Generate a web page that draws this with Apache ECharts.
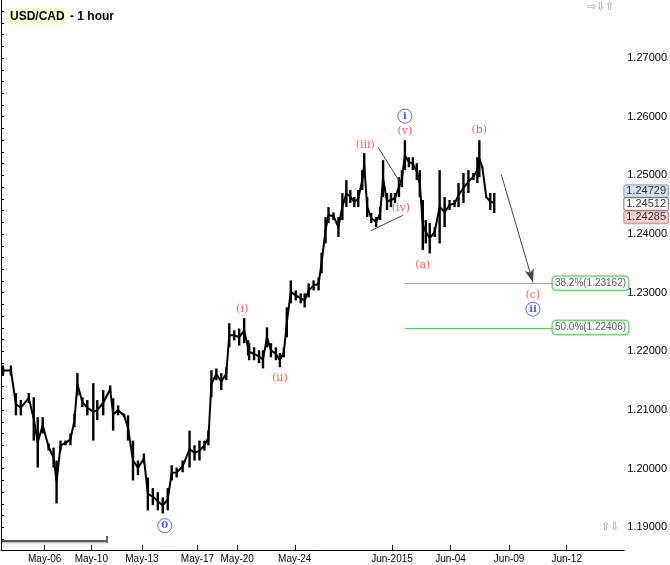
<!DOCTYPE html>
<html>
<head>
<meta charset="utf-8">
<script src="https://cdn.jsdelivr.net/npm/echarts@6/dist/echarts.min.js"></script>
<style>
  html, body { margin: 0; padding: 0; background: #fff; }
  #chart { width: 670px; height: 565px; }
</style>
</head>
<body>
<div id="chart"></div>
<script>
// session position (bar slot) of each sampled hourly block
var barSlot = [2,10,15,20,28,33,37,42,48,53,56,60,65,70,74,77,82,87,93,97,103,110,113,118,124,128,133,138,144,148,
  153,158,163,168,172,177,183,190,195,200,205,209,212,217,222,227,230,235,240,245,249,
  250,255,260,264,268,272,277,281,285,288,292,297,302,306,310,315,320,323,327,330,335,340,344,348,352,356,360,364,366,
  369,373,378,382,385,389,393,397,401,404,407,411,415,419,422,425,428,432,437,442,447,452,457,461,466,471,476,480,482,
  485,489,493,497];
var barHigh = [1.2176,1.2176,1.2129,1.2117,1.2129,1.2122,1.2088,1.2088,1.2043,1.2036,1.2014,1.2048,1.2048,1.2060,1.2094,1.2163,1.2122,1.2117,1.2146,1.2117,
  1.2134,1.2142,1.2120,1.2108,1.2094,1.2091,1.2048,1.2014,1.2026,1.1985,1.1967,1.1960,1.1951,1.1967,1.2006,1.2002,1.2014,1.2065,1.2040,1.2048,
  1.2048,1.2065,1.2168,1.2171,1.2163,1.2173,1.2248,1.2236,1.2239,1.2257,1.2219,
  1.2214,1.2207,1.2202,1.2202,1.2241,1.2214,1.2207,1.2197,1.2207,1.2275,1.2321,1.2304,1.2299,1.2299,1.2316,1.2321,1.2326,1.2368,1.2429,1.2446,
  1.2437,1.2429,1.2470,1.2492,1.2475,1.2463,1.2475,1.2509,1.2538,1.2463,1.2436,1.2429,1.2446,1.2526,1.2470,1.2470,1.2470,1.2497,1.2509,1.2560,
  1.2531,1.2531,1.2521,1.2509,1.2458,1.2424,1.2419,1.2412,1.2509,1.2463,1.2458,1.2458,1.2487,1.2504,1.2509,1.2504,1.2531,1.2560,1.2514,1.2463,
  1.2470,1.2470];
var barLow = [1.2159,1.2159,1.2091,1.2091,1.2112,1.2048,1.2002,1.2060,1.2031,1.2002,1.1941,1.2031,1.2040,1.2040,1.2071,1.2125,1.2105,1.2091,1.2048,1.2083,
  1.2091,1.2129,1.2065,1.2091,1.2088,1.2048,1.1980,1.1989,1.2009,1.1929,1.1938,1.1929,1.1924,1.1929,1.1980,1.1985,1.1994,1.2002,1.2014,1.2014,
  1.2031,1.2040,1.2122,1.2151,1.2134,1.2151,1.2207,1.2219,1.2210,1.2214,1.2193,
  1.2185,1.2185,1.2180,1.2171,1.2207,1.2190,1.2185,1.2173,1.2190,1.2224,1.2282,1.2287,1.2282,1.2275,1.2292,1.2304,1.2304,1.2333,1.2384,1.2419,
  1.2424,1.2395,1.2424,1.2446,1.2453,1.2446,1.2446,1.2475,1.2497,1.2429,1.2419,1.2412,1.2424,1.2463,1.2441,1.2446,1.2453,1.2463,1.2480,1.2509,
  1.2514,1.2509,1.2492,1.2463,1.2373,1.2384,1.2367,1.2395,1.2384,1.2412,1.2441,1.2446,1.2446,1.2453,1.2470,1.2492,1.2487,1.2497,1.2514,1.2463,
  1.2441,1.2436,1.2429];

var xTickSlot = [44, 91, 142, 198, 238, 296, 394, 453, 512, 570];
var xTickText = ['May-06', 'May-10', 'May-13', 'May-17', 'May-20', 'May-24', 'Jun-2015', 'Jun-04', 'Jun-09', 'Jun-12'];
var yTickLabels = [1.19, 1.20, 1.21, 1.22, 1.23, 1.24, 1.25, 1.26, 1.27];

var fibLevels = [1.23162, 1.22406];
var fibTexts = ['38.2%(1.23162)', '50.0%(1.22406)'];
var priceTags = [1.24729, 1.24512, 1.24285];

// wave count labels [slot, price, text]
var waveRed = [[243, 1.2272, '(i)'], [281, 1.2154, '(ii)'], [367, 1.2552, '(iii)'], [403, 1.2444, '(iv)'],
  [407, 1.2576, '(v)'], [425, 1.2347, '(a)'], [482, 1.2577, '(b)'], [536, 1.2296, '(c)']];
var waveBlue = [[407, 1.2601, 'i'], [165, 1.1903, '0'], [536, 1.2272, 'ii']];

var minorTicks = [];
for (var t = 1.188; t <= 1.279; t += 0.002) minorTicks.push(+t.toFixed(3));

var bars = barSlot.map(function (s, i) { return [s, barLow[i], barHigh[i]]; });
var mids = barSlot.map(function (s, i) { return [s, (barLow[i] + barHigh[i]) / 2]; });

var green = '#5cc85c';
var chart = echarts.init(document.getElementById('chart'));
chart.setOption({
  animation: false,
  title: {
    left: 3, top: 3,
    text: '{a|USD/CAD}{b| - 1 hour}',
    textStyle: {
      rich: {
        a: { backgroundColor: '#ffffd8', padding: [3, 2, 3, 2], fontSize: 12, fontWeight: 'bold', color: '#000', fontFamily: 'Liberation Sans' },
        b: { fontSize: 12, fontWeight: 'bold', color: '#000', fontFamily: 'Liberation Sans' }
      }
    }
  },
  grid: { left: 1, right: 42, top: 0, bottom: 15 },
  xAxis: {
    type: 'value', min: 0, max: 628,
    splitLine: { show: false },
    axisLine: { lineStyle: { color: '#000' } },
    axisTick: { inside: true, length: 5, lineStyle: { color: '#000' }, customValues: xTickSlot },
    axisLabel: {
      customValues: xTickSlot, margin: 4, fontSize: 10, color: '#000', fontFamily: 'Liberation Sans',
      formatter: function (v) { var i = xTickSlot.indexOf(v); return i >= 0 ? xTickText[i] : ''; }
    }
  },
  yAxis: {
    type: 'value', position: 'right', min: 1.18615, max: 1.27990, scale: true,
    splitLine: { show: false },
    axisLine: { show: true, lineStyle: { color: '#000' } },
    axisTick: { show: true, length: 3, lineStyle: { color: '#000' }, customValues: minorTicks },
    axisLabel: {
      customValues: yTickLabels, margin: 3, fontSize: 11, color: '#000', fontFamily: 'Liberation Sans',
      formatter: function (v) { return v.toFixed(5); }
    }
  },
  series: [
    {
      type: 'line', data: mids, symbol: 'none', lineStyle: { color: '#000', width: 2 }, z: 2
    },
    {
      type: 'custom', data: bars, z: 3,
      renderItem: function (params, api) {
        var lo = api.coord([api.value(0), api.value(1)]);
        var hi = api.coord([api.value(0), api.value(2)]);
        return { type: 'rect', shape: { x: lo[0] - 1.2, y: hi[1], width: 2.4, height: Math.max(1, lo[1] - hi[1]) }, style: { fill: '#000' } };
      }
    },
    // trend lines and projection arrow
    {
      type: 'line', symbol: 'none', data: [], silent: true, z: 4,
      markLine: {
        silent: true, animation: false, label: { show: false },
        lineStyle: { color: '#444', width: 1, type: 'solid' },
        symbol: ['none', 'none'],
        data: [
          [{ coord: [380, 1.2548] }, { coord: [404, 1.2483] }],
          [{ coord: [373, 1.2406] }, { coord: [405, 1.2432] }],
          [{ coord: [504, 1.2502] }, { coord: [536, 1.2318], symbol: 'arrow', symbolSize: [7, 13] }]
        ]
      }
    },
    // fibonacci retracement levels
    {
      type: 'custom', z: 8, silent: true,
      data: fibLevels.map(function (v) { return [407, 628, v]; }),
      renderItem: function (params, api) {
        var a = api.coord([api.value(0), api.value(2)]);
        var b = api.coord([api.value(1), api.value(2)]);
        return { type: 'line', z2: 10, shape: { x1: a[0], y1: Math.round(a[1]) + 0.5, x2: b[0], y2: Math.round(b[1]) + 0.5 }, style: { stroke: green, lineWidth: 1.2 } };
      }
    },
    {
      type: 'scatter', symbolSize: 0, z: 9,
      data: fibLevels.map(function (v, i) { return { value: [594, v], name: fibTexts[i] }; }),
      label: {
        show: true, position: 'inside', formatter: '{b}', fontSize: 10, color: '#333', fontFamily: 'Liberation Sans',
        backgroundColor: '#fff', borderColor: green, borderWidth: 1.5, borderRadius: 3, padding: [2, 2, 1, 2]
      }
    },
    // wave labels
    {
      type: 'scatter', symbolSize: 0, z: 6,
      data: waveRed.map(function (w) { return { value: [w[0], w[1]], name: w[2] }; }),
      label: { show: true, position: 'inside', formatter: '{b}', fontSize: 11, color: '#ff3030', fontFamily: 'DejaVu Serif' }
    },
    {
      type: 'scatter', symbol: 'circle', symbolSize: 14, z: 6,
      itemStyle: { color: '#fff', borderColor: '#2040ff', borderWidth: 1 },
      data: waveBlue.map(function (w) { return { value: [w[0], w[1]], name: w[2] }; }),
      label: { show: true, position: 'inside', formatter: '{b}', fontSize: 10, fontWeight: 'bold', color: '#1030ff', fontFamily: 'DejaVu Serif' }
    },
    // current price tags on the axis
    {
      type: 'scatter', symbolSize: 0, clip: false, z: 7,
      data: [
        { value: [628, priceTags[0]], label: { backgroundColor: '#c8dcef', borderColor: '#7a9ab8' } },
        { value: [628, priceTags[1]], label: { backgroundColor: '#fff', borderColor: '#666' } },
        { value: [628, priceTags[2]], label: { backgroundColor: '#f6c8c8', borderColor: '#b87a7a' } }
      ],
      label: {
        show: true, position: 'right', distance: 0, fontSize: 11, color: '#000', fontFamily: 'Liberation Sans',
        borderWidth: 1, borderRadius: 2, padding: [1, 2, 0, 2],
        formatter: function (p) { return p.value[1].toFixed(5); }
      }
    }
  ],
  graphic: [
    { type: 'text', left: 587, top: 1, style: { text: '⇨⇩⇧', fontSize: 11, fill: '#999' } },
    { type: 'text', left: 601, top: 521, style: { text: '⇧⇩', fontSize: 11, fill: '#999' } },
    { type: 'line', shape: { x1: 1, y1: 541, x2: 106, y2: 541 }, style: { stroke: '#333', lineWidth: 1.5, shadowBlur: 2, shadowOffsetY: 1, shadowColor: '#888' } },
    { type: 'line', shape: { x1: 107, y1: 536, x2: 107, y2: 543 }, style: { stroke: '#333', lineWidth: 1.5 } }
  ]
});
</script>
</body>
</html>
